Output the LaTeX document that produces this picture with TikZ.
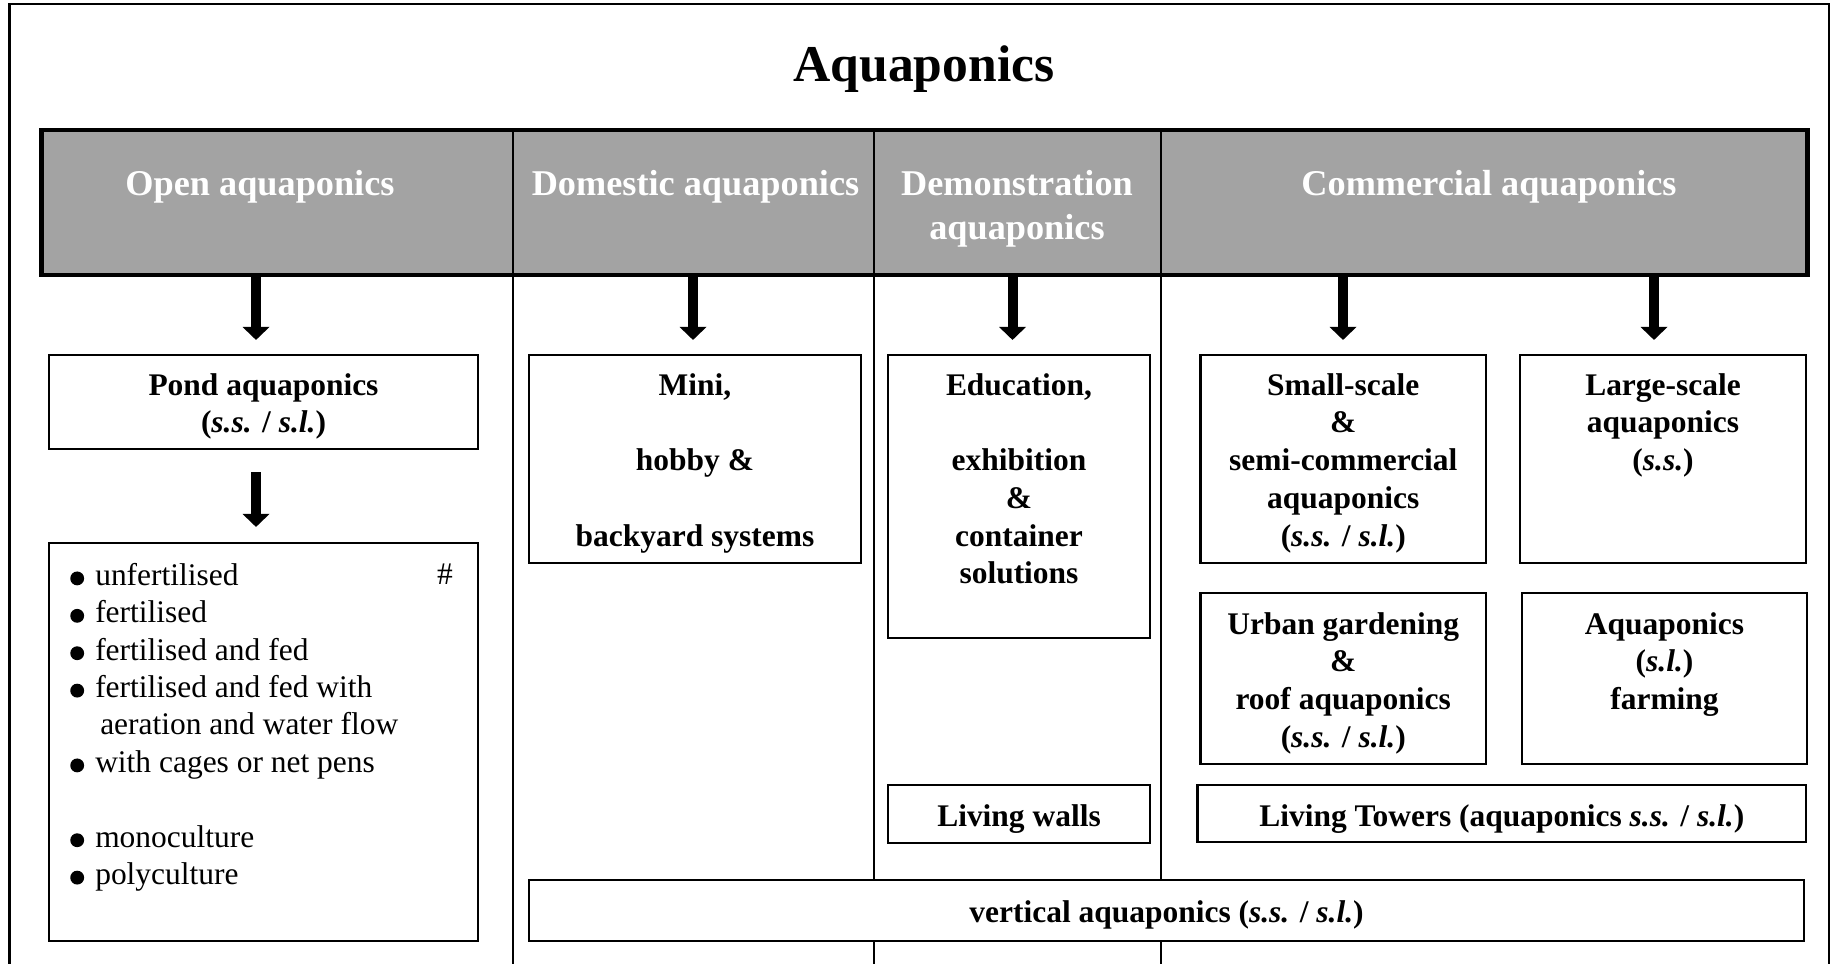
\documentclass[tikz,border=0pt]{standalone}
\usepackage{fontspec}
\setmainfont{Liberation Serif}
\usetikzlibrary{arrows.meta,calc,fit}
\definecolor{hdr}{HTML}{A3A3A3}
\newcommand{\ssl}{(\textit{s.s.} / \textit{s.l.})}
\newcommand{\bul}{\makebox[18.75pt][l]{\tikz[baseline=0pt]\fill (5.2pt,5.2pt) circle[radius=5.2pt];}}
\begin{document}
\begin{tikzpicture}[x=0.75pt,y=-0.75pt,
  box/.style={draw, line width=1.6pt, fill=white, inner sep=0pt},
  hcol/.style={fill=hdr, inner sep=0pt},
  btxt/.style={anchor=north, align=center, inner sep=0pt, font=\fontsize{23.6}{28.3}\selectfont\bfseries},
  htxt/.style={anchor=north, align=center, inner sep=0pt, text=white, font=\fontsize{27.2}{32.3}\selectfont\bfseries},
  arr/.style={line width=7.5pt, -{Triangle[width=20.25pt,length=9.75pt,line width=0pt]}},
  divider/.style={line width=1.6pt}]
\useasboundingbox (0,0) rectangle (1833,963);
\clip (0,0) rectangle (1833,963);
\coordinate (bot) at (0,980);
% outer frame
\draw[line width=1.9pt] (9.5,980) -- (9.5,4) -- (1829,4) -- (1829,980);
% title
\node[font=\fontsize{38.7}{46}\selectfont\bfseries, anchor=base] (title) at (924,82) {Aquaponics};
% header columns
\node[hcol, fit={(42,130.5) (513,274.5)}] (hOpen) {};
\node[hcol, fit={(513,130.5) (874,274.5)}] (hDom) {};
\node[hcol, fit={(874,130.5) (1161,274.5)}] (hDemo) {};
\node[hcol, fit={(1161,130.5) (1807,274.5)}] (hCom) {};
% dividers
\draw[divider] (hDom.north west) -- (hDom.north west |- bot);
\draw[divider] (hDemo.north west) -- (hDemo.north west |- bot);
\draw[divider] (hCom.north west) -- (hCom.north west |- bot);
\draw[line width=3.4pt] (hOpen.north west) rectangle (hCom.south east);
% header texts
\node[htxt] (tOpen) at (260,164.9) {\strut Open aquaponics};
\node[htxt] (tDom) at (695.5,164.9) {\strut Domestic aquaponics};
\node[htxt] (tDemo) at (1017,164.9) {\strut Demonstration\\[0.6pt]aquaponics};
\node[htxt] (tCom) at (1489,164.9) {\strut Commercial aquaponics};
% boxes
\node[box, fit={(49,355) (478,449)}] (pond) {};
\node[box, fit={(49,543) (478,941)}] (list) {};
\node[box, fit={(529,355) (861,563)}] (mini) {};
\node[box, fit={(888,355) (1150,638)}] (edu) {};
\node[box, fit={(888,785) (1150,843)}] (walls) {};
\node[box, fit={(1200.5,355) (1486,563)}] (small) {};
\node[box, fit={(1520,355) (1806,563)}] (large) {};
\node[box, fit={(1200.5,593) (1486,764)}] (urban) {};
\node[box, fit={(1522,593) (1807,764)}] (farm) {};
\node[box, fit={(1197.5,785) (1806,842)}] (towers) {};
\node[box, fit={(529,880) (1804,941)}] (vert) {};
% box texts
\node[btxt] (pond-t) at ($(pond.north)+(0,14.5)$) {\strut Pond aquaponics\\\ssl};
\node[btxt] (mini-t) at ($(mini.north)+(0,14.5)$) {\strut Mini,\\[28.3pt]hobby \&\\[28.3pt]backyard systems};
\node[btxt] (edu-t) at ($(edu.north)+(0,14.5)$) {\strut Education,\\[28.3pt]exhibition\\\&\\container\\solutions};
\node[btxt] (small-t) at ($(small.north)+(0,14.5)$) {\strut Small-scale\\\&\\semi-commercial\\aquaponics\\\ssl};
\node[btxt] (large-t) at ($(large.north)+(0,14.5)$) {\strut Large-scale\\aquaponics\\(\textit{s.s.})};
\node[btxt] (urban-t) at ($(urban.north)+(0,15.5)$) {\strut Urban gardening\\\&\\roof aquaponics\\\ssl};
\node[btxt] (farm-t) at ($(farm.north)+(0,15.5)$) {\strut Aquaponics\\(\textit{s.l.})\\farming};
\node[btxt] (walls-t) at ($(walls.north)+(0,15.5)$) {\strut Living walls};
\node[btxt] (towers-t) at ($(towers.north)+(0,15.5)$) {\strut Living Towers (aquaponics \textit{s.s.} / \textit{s.l.})};
\node[btxt] (vert-t) at ($(vert.north)+(0,17)$) {\strut vertical aquaponics \ssl};
% list
\node[anchor=north west, align=left, inner sep=0pt, font=\fontsize{23.6}{28.05}\selectfont] (list-t) at (70,558.9)
  {\strut\bul unfertilised\\\bul fertilised\\\bul fertilised and fed\\\bul fertilised and fed with\\\hspace*{22.5pt}aeration and water flow\\\bul with cages or net pens\\[28.05pt]\bul monoculture\\\bul polyculture};
\node[anchor=base, inner sep=0pt, font=\fontsize{23.6}{28.3}\selectfont] (hash) at (445,584) {\#};
% arrows
\coordinate (a1) at (256,277);
\coordinate (a2) at (693,277);
\coordinate (a3) at (1012.5,277);
\coordinate (a4) at (1343,277);
\coordinate (a5) at (1654,277);
\draw[arr, shorten >=10.5pt] (a1) -- (a1 |- pond.north);
\draw[arr, shorten <=16.5pt, shorten >=11.25pt] (a1 |- pond.south) -- (a1 |- list.north);
\draw[arr, shorten >=10.5pt] (a2) -- (a2 |- mini.north);
\draw[arr, shorten >=10.5pt] (a3) -- (a3 |- edu.north);
\draw[arr, shorten >=10.5pt] (a4) -- (a4 |- small.north);
\draw[arr, shorten >=10.5pt] (a5) -- (a5 |- large.north);
\end{tikzpicture}
\end{document}
